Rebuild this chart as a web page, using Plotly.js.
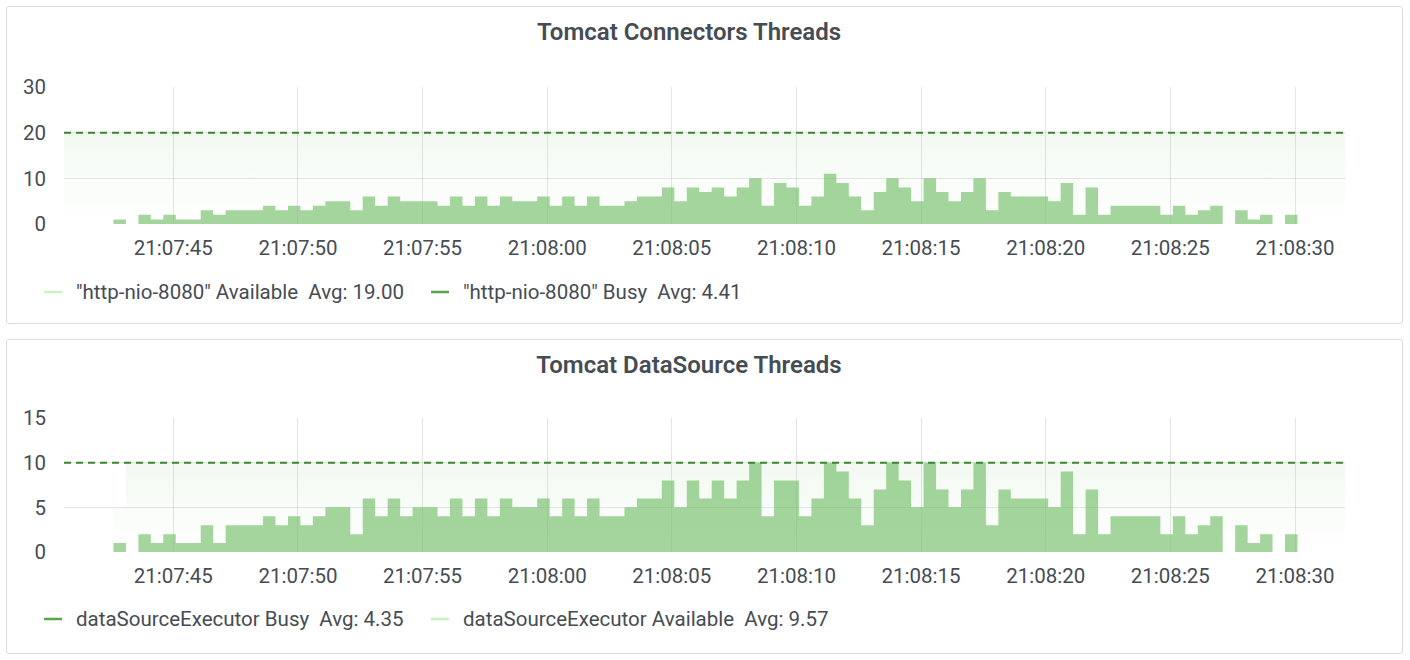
<!DOCTYPE html>
<html>
<head>
<meta charset="utf-8">
<script src="https://cdn.plot.ly/plotly-3.0.1.min.js"></script>
<style>
  html, body { margin:0; padding:0; background:#ffffff; width:1410px; height:660px; overflow:hidden; }
  .panel { position:absolute; box-sizing:border-box; border:1px solid #d9dbde; border-radius:3px; background:#fff; }
  .plot { position:absolute; left:0; width:1410px; height:330px; }
</style>
</head>
<body>
<div class="panel" style="left:6px; top:6px; width:1397px; height:318px;"></div>
<div class="panel" style="left:6px; top:339px; width:1397px; height:315px;"></div>
<div id="chart1" class="plot" style="top:0px;"></div>
<div id="chart2" class="plot" style="top:330px;"></div>
<script>
// ---------- DATA ----------
const titles = ["Tomcat Connectors Threads", "Tomcat DataSource Threads"];
const xTickFormat = "%H:%M:%S";
const sampleStepMs = 500;
// first sample of busy series: 21:07:42.6
const busyStart = "2021-01-01 21:07:42.6";
const connectorsAvailableStart = "2021-01-01 21:07:40.6";
const dataSourceAvailableStart = "2021-01-01 21:07:42.6";

const connectorsBusy = [1,0,2,1,2,1,1,3,2,3, 3,3,4,3,4,3,4,5,5,3, 6,4,6,5,5,5,4,6,4,6,
  4,6,5,5,6,4,6,4,6,4, 4,5,6,6,8,5,8,7,8,6, 8,10,4,9,8,4,6,11,9,6,
  3,7,10,8,5,10,7,5,7,10, 3,7,6,6,6,5,9,2,8,2, 4,4,4,4,2,4,2,3,4,0, 3,1,2,0,2,0];
const connectorsAvailable = [20,20,20,20,20,20,20,20,20,20, 20,20,20,20,20,20,20,20,20,20,
  20,20,20,20,20,20,20,20,20,20, 20,20,20,20,20,20,20,20,20,20, 20,20,20,20,20,20,20,20,20,20,
  20,20,20,20,20,20,20,20,20,20, 20,20,20,20,20,20,20,20,20,20, 20,20,20,20,20,20,20,20,20,20,
  20,20,20,20,20,20,20,20,20,20, 20,20,20,20,20,20,20,20,20,20, 20,20,20,20];

const dataSourceBusy = [1,0,2,1,2,1,1,3,1,3, 3,3,4,3,4,3,4,5,5,2, 6,4,6,4,5,5,4,6,4,6,
  4,6,5,5,6,4,6,4,6,4, 4,5,6,6,8,5,8,6,8,6, 8,10,4,8,8,4,6,10,9,6,
  3,7,10,8,5,10,7,5,7,10, 3,7,6,6,6,5,9,2,7,2, 4,4,4,4,2,4,2,3,4,0, 3,1,2,0,2,0];
const dataSourceAvailable = [5,10,10,10,10,10,10,10,10,10, 10,10,10,10,10,10,10,10,10,10,
  10,10,10,10,10,10,10,10,10,10, 10,10,10,10,10,10,10,10,10,10, 10,10,10,10,10,10,10,10,10,10,
  10,10,10,10,10,10,10,10,10,10, 10,10,10,10,10,10,10,10,10,10, 10,10,10,10,10,10,10,10,10,10,
  10,10,10,10,10,10,10,10,10,10, 10,10,10,10,10,10,10,10,10,10];

const connectorsThreshold = 20;
const dataSourceThreshold = 10;

const legend1 = [
  {label: '"http-nio-8080" Available', avg: "19.00", color: "#C8F2C2"},
  {label: '"http-nio-8080" Busy', avg: "4.41", color: "#56A64B"}
];
const legend2 = [
  {label: "dataSourceExecutor Busy", avg: "4.35", color: "#56A64B"},
  {label: "dataSourceExecutor Available", avg: "9.57", color: "#C8F2C2"}
];

const xRange = ["2021-01-01 21:07:40.615", "2021-01-01 21:08:32.006"];
const xTick0 = "2021-01-01 21:07:45";
const yRange1 = [0, 30], yDtick1 = 10;
const yRange2 = [0, 15], yDtick2 = 5;

// ---------- HELPERS ----------
function toMs(s) {
  const m = s.match(/(\d+)-(\d+)-(\d+) (\d+):(\d+):([\d.]+)/);
  const sec = parseFloat(m[6]);
  return Date.UTC(+m[1], +m[2]-1, +m[3], +m[4], +m[5], Math.floor(sec), Math.round((sec % 1) * 1000));
}
function times(start, n) {
  const t0 = toMs(start);
  const out = [];
  for (let i = 0; i < n; i++) out.push(t0 + i * sampleStepMs);
  return out;
}

const TEXT = "#464c54";
const FONT = "Roboto, 'Open Sans', sans-serif";
const GRID = "rgba(0,0,0,0.10)";

function buildChart(divId, opts) {
  const plotL = 64, plotR = 1345;
  const plotW = plotR - plotL;
  const plotH = opts.bottom - opts.top;
  const px2x = px => (px - plotL) / plotW;
  const px2y = py => (opts.bottom - py) / plotH;

  const availTrace = {
    type: "scatter", mode: "lines", line: {width: 0, shape: "hv"},
    x: times(opts.availStart, opts.avail.length), y: opts.avail,
    fill: "tozeroy",
    fillcolor: "rgba(115,191,105,0.05)",
    fillgradient: {type: "vertical", colorscale: [[0, "rgba(115,191,105,0.0)"], [1, "rgba(115,191,105,0.09)"]]},
    hoverinfo: "skip", showlegend: false
  };
  const busyTrace = {
    type: "scatter", mode: "lines", line: {width: 0, shape: "hv"},
    x: times(busyStart, opts.busy.length), y: opts.busy,
    fill: "tozeroy", fillcolor: "rgba(115,191,105,0.65)",
    hoverinfo: "skip", showlegend: false
  };

  const shapes = [{
    type: "line", xref: "paper", x0: 0, x1: 1, yref: "y", y0: opts.threshold, y1: opts.threshold,
    line: {color: "#37872D", width: 2, dash: "7px,5px"}, layer: "above"
  }];
  const annotations = [];
  const legendY = px2y(opts.legendY);
  const itemX = [[44, 74], [431, 461]];
  opts.legend.forEach((it, i) => {
    shapes.push({type: "line", xref: "paper", yref: "paper",
      x0: px2x(itemX[i][0]), x1: px2x(itemX[i][0] + 18), y0: legendY, y1: legendY,
      line: {color: it.color, width: 2.5}});
    annotations.push({xref: "paper", yref: "paper", x: px2x(itemX[i][1]), y: legendY,
      xanchor: "left", yanchor: "middle", showarrow: false,
      text: it.label + " \u00a0Avg: " + it.avg,
      font: {family: FONT, size: 20.5, color: TEXT}});
  });

  const layout = {
    width: 1410, height: 330,
    paper_bgcolor: "rgba(0,0,0,0)", plot_bgcolor: "rgba(0,0,0,0)",
    margin: {l: plotL, r: 1410 - plotR, t: opts.top, b: 330 - opts.bottom, pad: 0},
    title: {text: opts.title, xref: "container", yref: "container", x: 689/1410, xanchor: "center",
      y: 1 - opts.titleY/330, yanchor: "middle",
      font: {family: FONT, size: 24, color: TEXT, weight: 600}},
    showlegend: false,
    xaxis: {type: "date", range: xRange.map(toMs), tick0: toMs(xTick0), dtick: 5000, tickformat: xTickFormat,
      showgrid: true, gridcolor: GRID, gridwidth: 1, zeroline: false, showline: false,
      ticks: "", ticklabelstandoff: 9, tickfont: {family: FONT, size: 20.5, color: TEXT}},
    yaxis: {range: opts.yRange, dtick: opts.yDtick, tick0: 0, showgrid: true, gridcolor: GRID, gridwidth: 1,
      zeroline: false, showline: false, ticks: "", ticklabelstandoff: 17,
      tickfont: {family: FONT, size: 20.5, color: TEXT}},
    shapes: shapes, annotations: annotations
  };
  Plotly.newPlot(divId, [availTrace, busyTrace], layout, {staticPlot: true, displayModeBar: false});
}

buildChart("chart1", {title: titles[0], titleY: 32, top: 87, bottom: 224,
  busy: connectorsBusy, avail: connectorsAvailable, availStart: connectorsAvailableStart,
  threshold: connectorsThreshold, yRange: yRange1, yDtick: yDtick1, legend: legend1, legendY: 292});
buildChart("chart2", {title: titles[1], titleY: 35, top: 88, bottom: 222,
  busy: dataSourceBusy, avail: dataSourceAvailable, availStart: dataSourceAvailableStart,
  threshold: dataSourceThreshold, yRange: yRange2, yDtick: yDtick2, legend: legend2, legendY: 289});
</script>
</body>
</html>
